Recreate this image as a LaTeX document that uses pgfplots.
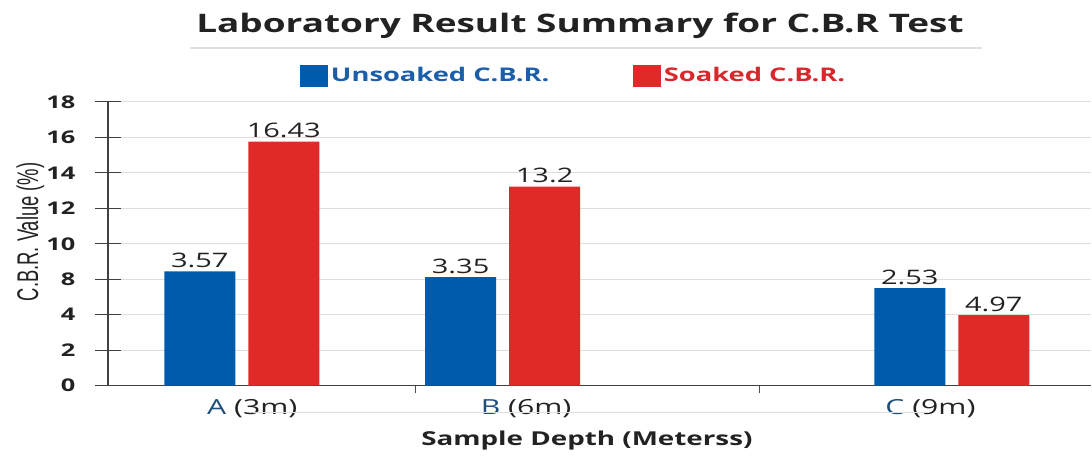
\documentclass[border=0pt]{standalone}
\usepackage{fontspec}
\setmainfont{Open Sans}
\newfontfamily\narrowfont{Liberation Sans}
\usepackage{graphicx}
\usepackage{pgfplots}
\pgfplotsset{compat=1.18}
\definecolor{unsoaked}{HTML}{005BAC}
\definecolor{soaked}{HTML}{E02A2A}
\definecolor{unsoakedtxt}{HTML}{1B5FAA}
\definecolor{soakedtxt}{HTML}{D8282B}
\definecolor{navy}{HTML}{1F4E79}
\definecolor{txt}{HTML}{222222}
\newcommand{\sx}[1]{\scalebox{1.45}[1]{#1}}
\begin{document}
\begin{tikzpicture}
\begin{axis}[
  scale only axis, width=590.4pt, height=170.4pt,
  xmin=-0.513, xmax=3.257, ymin=0, ymax=18,
  y coord trafo/.code={\pgfmathparse{(#1<=4)*(#1) + and(#1>4,#1<=8)*(4+(#1-4)/2) + (#1>8)*(#1-2)}},
  y coord inv trafo/.code={\pgfmathparse{(#1<=4)*(#1) + and(#1>4,#1<=6)*(4+2*(#1-4)) + (#1>6)*(#1+2)}},
  axis lines*=left,
  axis line style={draw=black!75, line width=0.8pt},
  ytick={0,2,4,8,10,12,14,16,18},
  yticklabels={\sx{0},\sx{2},\sx{4},\sx{8},\sx{10},\sx{12},\sx{14},\sx{16},\sx{18}},
  yticklabel style={font=\fontsize{10.5}{10.5}\selectfont\bfseries, text=txt, xshift=-8pt},
  ymajorgrids, grid style={black!13, line width=0.6pt},
  tick align=center, major tick length=16pt,
  ytick style={draw=black!75, line width=0.6pt},
  xtick={0.04,1.09,2.64},
  xticklabels={{\sx{\textcolor{navy}{A} (3m)}},{\sx{\textcolor{navy}{B} (6m)}},{\sx{\textcolor{navy}{C} (9m)}}},
  xticklabel style={font=\fontsize{12.5}{12.5}\selectfont, text=txt, yshift=11pt},
  xtick style={draw=none},
  extra x ticks={0.667,1.985}, extra x tick labels={},
  extra x tick style={xtick style={draw=black!70, line width=0.6pt}, major tick length=4.5pt, tick align=outside},
  ybar, bar width=0.272,
  nodes near coords={\sx{\pgfplotspointmeta}}, point meta=explicit symbolic,
  nodes near coords style={font=\fontsize{12}{12}\selectfont, text=txt, anchor=south, inner sep=2pt},
  clip=false,
  legend style={draw=none, fill=none, at={(rel axis cs:0.474,1.0915)}, anchor=center,
    font=\fontsize{11.3}{11.3}\selectfont\bfseries, legend columns=2,
    /tikz/every even column/.append style={column sep=48pt}},
  legend image code/.code={\fill[#1] (0pt,-6.6pt) rectangle (16.8pt,6.6pt);},
  xlabel={\sx{Sample Depth (Meterss)}},
  every axis x label/.style={at={(rel axis cs:0.487,-0.194)}, anchor=center, font=\fontsize{11.5}{11.5}\selectfont\bfseries, text=txt},
  ylabel={\scalebox{0.8}[1.3]{C.B.R. Value (\%)}},
  every axis y label/.style={at={(rel axis cs:-0.079,0.542)}, rotate=90, anchor=center, font=\narrowfont\fontsize{13.8}{13.8}\selectfont, text=txt},
]
\addplot[fill=unsoaked, draw=none, bar shift=-0.161] coordinates {(0,8.44) [3.57] (1,8.12) [3.35] (2.722,7.0) [2.53]};
\addlegendentry{\textcolor{unsoakedtxt}{\sx{Unsoaked C.B.R.}}}
\addplot[fill=soaked, draw=none, bar shift=0.161] coordinates {(0,15.76) [16.43] (1,13.22) [13.2] (2.722,3.98) [4.97]};
\addlegendentry{\textcolor{soakedtxt}{\sx{Soaked C.B.R.}}}
\node[font=\fontsize{15.3}{15.3}\selectfont\bfseries, text=txt] at (rel axis cs:0.48,1.268) {\sx{Laboratory Result Summary for C.B.R Test}};
\draw[black!12, line width=0.8pt] (rel axis cs:0.083,1.19) -- (rel axis cs:0.889,1.19);
\draw[black!12, line width=0.8pt] (rel axis cs:0.147,-0.095) -- (rel axis cs:0.835,-0.095);
\path (rel axis cs:-0.1098,-0.25) rectangle (rel axis cs:1,1.359);
\end{axis}
\end{tikzpicture}
\end{document}
